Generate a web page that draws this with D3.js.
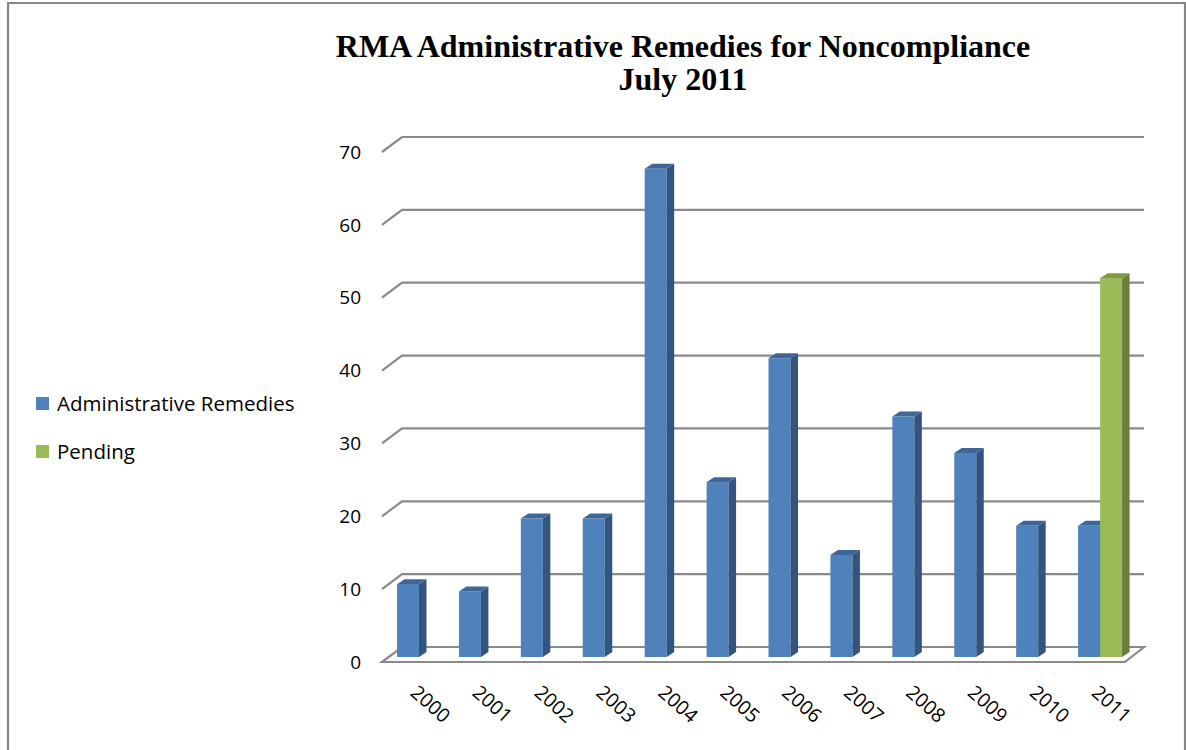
<!DOCTYPE html>
<html><head><meta charset="utf-8">
<script src="https://cdn.jsdelivr.net/npm/d3@7/dist/d3.min.js"></script>
<style>body{margin:0;background:#fff}svg{display:block}</style>
</head><body>
<svg id="c" width="1186" height="750"></svg>
<script>
const years = ["2000","2001","2002","2003","2004","2005","2006","2007","2008","2009","2010","2011"];
const series = ["Administrative Remedies","Pending"];
const remedies = [10,9,19,19,67,24,41,14,33,28,18,18];
const pending = [0,0,0,0,0,0,0,0,0,0,0,52];
const yTicks = [0,10,20,30,40,50,60,70];
const titleLines = ["RMA Administrative Remedies for Noncompliance","July 2011"];

const colors = {
  "Administrative Remedies": {front:"#4F81BD", side:"#32547F", top:"#3E6698"},
  "Pending": {front:"#9BBB59", side:"#697F3A", top:"#7D9A45"}
};
const font = "'Open Sans', sans-serif";
const svg = d3.select("#c");

// border
svg.append("path").attr("d","M8,752 L8,3 L1185,3 L1185,752")
  .attr("fill","none").attr("stroke","#868686").attr("stroke-width",2.2);

// title
svg.append("g").selectAll("text").data(titleLines).join("text")
  .attr("x",683).attr("y",(d,i)=>57+i*33)
  .attr("text-anchor","middle")
  .attr("font-family","'Liberation Serif','Times New Roman',serif")
  .attr("font-weight","bold").attr("font-size",32)
  .text(d=>d);

// scales
const depthX = 20, depthY = 15;
const x0 = d3.scaleBand().domain(years).range([382,1125]);
const x1 = d3.scaleBand().domain(series).range([15,59]);
const yBack = d3.scaleLinear().domain([0,70]).range([647,137]);
const yBar = d3.scaleLinear().domain([0,70]).range([657,147]);
const xL = 382, xR = 1144;

// floor
const f = [[xL+depthX,yBack(0)],[xR,yBack(0)],[xR-depthX+1,yBack(0)+depthY],[xL,yBack(0)+depthY]];
svg.append("polygon").attr("points",f.map(p=>p.join(",")).join(" "))
  .attr("fill","#fff").attr("stroke","#8a8a8a").attr("stroke-width",2.2)
  .attr("stroke-linejoin","miter");

// gridlines
const grid = svg.append("g");
yTicks.filter(v=>v>0).forEach(v=>{
  const yb = yBack(v);
  grid.append("path")
    .attr("d",`M${xL},${yb+depthY} L${xL+depthX},${yb} L${xR},${yb}`)
    .attr("fill","none").attr("stroke","#8a8a8a").attr("stroke-width",2.2);
});

// y labels
svg.append("g").selectAll("text").data(yTicks).join("text")
  .attr("x",361).attr("y",d=>yBack(d)+depthY)
  .attr("dy","0.35em").attr("text-anchor","end")
  .attr("font-family",font).attr("font-size",19).attr("fill","#000")
  .text(d=>d);

// bars
const bdx = 7.5, bdy = 5;
const data = [];
years.forEach((yr,i)=>{
  [[series[0],remedies[i]],[series[1],pending[i]]].forEach(([s,v])=>{
    if (v>0) data.push({yr,s,v});
  });
});
const bars = svg.append("g");
data.forEach(d=>{
  const xa = x0(d.yr)+x1(d.s), w = x1.bandwidth(), xb = xa+w;
  const yt = yBar(d.v), y0 = yBar(0);
  const c = colors[d.s];
  const g = bars.append("g");
  g.append("rect").attr("x",xa).attr("y",yt).attr("width",w).attr("height",y0-yt).attr("fill",c.front);
  g.append("polygon").attr("points",[[xb,yt],[xb+bdx,yt-bdy],[xb+bdx,y0-bdy],[xb,y0]].map(p=>p.join(",")).join(" ")).attr("fill",c.side);
  g.append("polygon").attr("points",[[xa,yt],[xa+bdx,yt-bdy],[xb+bdx,yt-bdy],[xb,yt]].map(p=>p.join(",")).join(" ")).attr("fill",c.top);
});

// x labels
svg.append("g").selectAll("text").data(years).join("text")
  .attr("transform",d=>`translate(${x0(d)+48.5},704) rotate(42)`)
  .attr("text-anchor","middle").attr("dy","0.35em")
  .attr("font-family",font).attr("font-size",19.5).attr("fill","#000")
  .text(d=>d);

// legend
const leg = svg.append("g").selectAll("g").data(series).join("g")
  .attr("transform",(d,i)=>`translate(36,${397+i*48})`);
leg.append("rect").attr("width",13).attr("height",13).attr("fill",d=>colors[d].front);
leg.append("text").attr("x",21).attr("y",14)
  .attr("font-family",font).attr("font-size",20.5).attr("fill","#000")
  .text(d=>d);
</script>
</body></html>
